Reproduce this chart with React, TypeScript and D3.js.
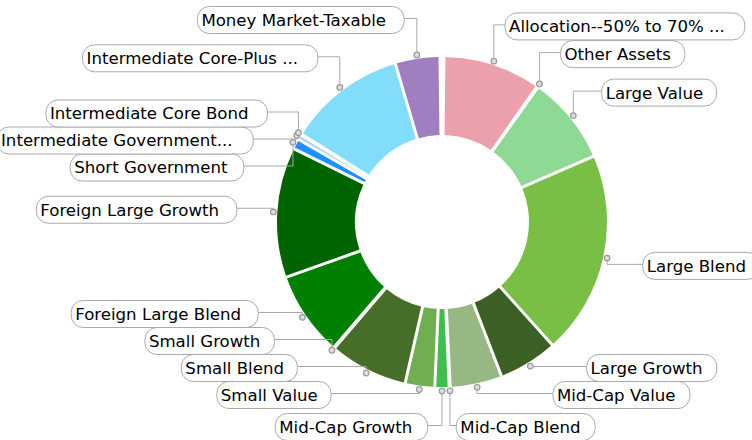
import React, { useMemo } from 'react';
import * as d3 from 'd3';

const width = 752;
const height = 440;
const cx = 442;
const cy = 222;
const innerR = 87;
const outerR = 165;
const dotR = 169;
const labelR = 205.5;
const boxH = 27;
const gap = 27;
const fontFamily = '"DejaVu Sans", Verdana, sans-serif';
const fontSize = 16.6;

const categories = [
  'Allocation--50% to 70% ...',
  'Other Assets',
  'Large Value',
  'Large Blend',
  'Large Growth',
  'Mid-Cap Value',
  'Mid-Cap Blend',
  'Mid-Cap Growth',
  'Small Value',
  'Small Blend',
  'Small Growth',
  'Foreign Large Blend',
  'Foreign Large Growth',
  'Short Government',
  'Intermediate Government...',
  'Intermediate Core Bond',
  'Intermediate Core-Plus ...',
  'Money Market-Taxable',
];
const values = [9.6, 0.1, 8.7, 20.0, 5.8, 5.1, 0.1, 1.4, 2.9, 7.7, 0.1, 8.3, 12.8, 1.0, 0.5, 0.1, 11.6, 4.4];
const colors = [
  '#eca0ab', '#c0c0c0', '#8ed993', '#79bf45', '#3c6023', '#97b783', '#5aa55a', '#40bd4f', '#70ae52',
  '#466e29', '#2e8b57', '#008000', '#006400', '#1e90ff', '#a0d4f6', '#5fa9dd', '#82ddfb', '#a07fc0',
];

let ctx: CanvasRenderingContext2D | null = null;
function textWidth(t: string) {
  if (!ctx) ctx = document.createElement('canvas').getContext('2d');
  ctx!.font = `${fontSize}px ${fontFamily}`;
  return ctx!.measureText(t).width;
}

// push labels apart so boxes don't overlap; the bottom-most one may sit a bit lower
function spread(items: any[], minY: number, maxY: number, floorY: number) {
  items.sort((a, b) => a.y - b.y);
  items.forEach(d => (d.y = Math.max(minY, Math.min(maxY, d.y))));
  for (let i = 1; i < items.length; i++) {
    if (items[i].y < items[i - 1].y + gap) items[i].y = items[i - 1].y + gap;
  }
  const n = items.length;
  if (n && items[n - 1].y > maxY) items[n - 1].y = maxY;
  for (let i = n - 2; i >= 0; i--) {
    if (items[i].y > items[i + 1].y - gap) items[i].y = items[i + 1].y - gap;
  }
  const last = items[n - 1];
  if (last && last.y0 > maxY) last.y = Math.min(last.y0, floorY);
}

export default function App() {
  const slices = useMemo(() => {
    const pie = d3.pie<number>().sort(null).startAngle(0.012).endAngle(2 * Math.PI - 0.012);
    return pie(values);
  }, []);

  const arc = d3.arc<any>().innerRadius(innerR).outerRadius(outerR).padAngle(0.016);

  const labels = useMemo(() => {
    const all = slices.map((s, i) => {
      const mid = (s.startAngle + s.endAngle) / 2;
      const right = mid < Math.PI;
      const w = textWidth(categories[i]);
      const y0 = cy - labelR * Math.cos(mid);
      return {
        i,
        right,
        text: categories[i],
        dx: cx + dotR * Math.sin(mid),
        dy: cy - dotR * Math.cos(mid),
        y0,
        y: y0,
        w: 4 + w * 1.055 + 8,
      };
    });
    const r = all.filter(d => d.right);
    const l = all.filter(d => !d.right);
    spread(r, 20, 422, 427);
    spread(l, 20, 422, 427);
    return all.map(d => {
      const off = Math.sqrt(Math.max(0, labelR * labelR - (d.y - cy) * (d.y - cy)));
      const bx = d.right ? cx + off : cx - off - d.w;
      const edge = d.right ? bx : bx + d.w;
      return { ...d, bx, edge };
    });
  }, [slices]);

  return (
    <svg width={width} height={height} style={{ position: 'absolute', left: 0, top: 0, background: '#fff' }}>
      <g transform={`translate(${cx},${cy})`}>
        {slices.map((s, i) => (
          <path key={i} d={arc(s) || ''} fill={colors[i]} />
        ))}
      </g>
      {labels.map(d => (
        <g key={d.i}>
          <path
            d={`M${d.dx},${d.dy}V${d.y - 1.5}H${d.edge}`}
            fill="none"
            stroke="#aaa"
            strokeWidth={1}
          />
          <circle cx={d.dx} cy={d.dy} r={2.8} fill="#ddd" stroke="#999" strokeWidth={1.2} />
          <rect
            x={d.bx}
            y={d.y - boxH / 2}
            width={d.w}
            height={boxH}
            rx={12}
            ry={12}
            fill="#fff"
            stroke="#aaa"
            strokeWidth={1}
          />
          <text
            x={d.bx + 4}
            y={d.y}
            dy="0.36em"
            fontFamily={fontFamily}
            fontSize={fontSize}
            fill="#000"
          >
            {d.text}
          </text>
        </g>
      ))}
    </svg>
  );
}
